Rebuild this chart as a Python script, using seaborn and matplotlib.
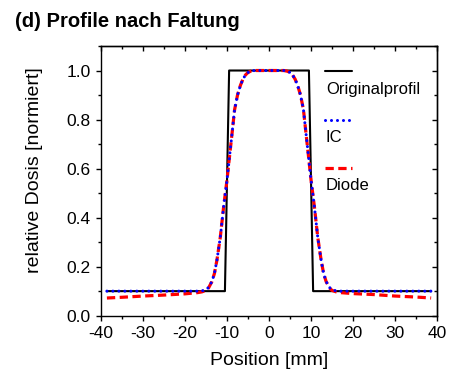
import numpy as np
import pandas as pd
import matplotlib
matplotlib.use("Agg")
import matplotlib.pyplot as plt
from matplotlib.ticker import MultipleLocator
import seaborn as sns

# ---- data ----
x_orig = [-38.6, -10.5, -9.5, 9.5, 10.5, 38.6]
y_orig = [0.1, 0.1, 1.0, 1.0, 0.1, 0.1]

x_ic = [-38.6, -35, -30, -25, -20, -17, -16, -15, -14.4, -13.6, -13.0, -12.4,
        -11.6, -10.8, -10.0, -9.4, -8.8, -8.2, -7.5, -6.8, -6.2, -5.6, -5.0,
        -4.4, -3.5, -2.0, 0.0, 2.0, 3.5, 4.4, 5.0, 5.6, 6.2, 6.8, 7.5, 8.2,
        8.8, 9.4, 10.0, 10.8, 11.6, 12.4, 13.0, 13.6, 14.4, 15, 16, 17, 20,
        25, 30, 35, 38.6]
y_ic = [0.1, 0.1, 0.1, 0.1, 0.1, 0.1, 0.101, 0.106, 0.115, 0.139, 0.172, 0.227,
        0.32, 0.445, 0.554, 0.65, 0.744, 0.84, 0.90, 0.94, 0.965, 0.982, 0.992,
        0.997, 1.0, 1.0, 1.0, 1.0, 1.0, 0.997, 0.992, 0.982, 0.965, 0.94, 0.90,
        0.84, 0.744, 0.65, 0.554, 0.445, 0.32, 0.227, 0.172, 0.139, 0.115,
        0.106, 0.101, 0.1, 0.1, 0.1, 0.1, 0.1, 0.1]

x_diode = x_ic
y_diode = [0.072, 0.075, 0.080, 0.084, 0.089, 0.094, 0.097, 0.103, 0.113, 0.139,
           0.172, 0.227, 0.32, 0.445, 0.554, 0.65, 0.744, 0.84, 0.90, 0.94,
           0.965, 0.982, 0.992, 0.997, 1.0, 1.0, 1.0, 1.0, 1.0, 0.997, 0.992,
           0.982, 0.965, 0.94, 0.90, 0.84, 0.744, 0.65, 0.554, 0.445, 0.32,
           0.227, 0.172, 0.139, 0.113, 0.103, 0.097, 0.094, 0.090, 0.086,
           0.080, 0.076, 0.072]

labels = ["Originalprofil", "IC", "Diode"]
title = "(d) Profile nach Faltung"
xlabel = "Position [mm]"
ylabel = "relative Dosis [normiert]"

sns.set_style("ticks")
plt.rcParams["font.family"] = ["Liberation Sans", "DejaVu Sans"]
plt.rcParams["axes.unicode_minus"] = False
plt.rcParams["text.color"] = "black"
plt.rcParams["axes.labelcolor"] = "black"
plt.rcParams["xtick.color"] = "black"
plt.rcParams["ytick.color"] = "black"

fig = plt.figure(figsize=(4.51, 3.74), dpi=100)
ax = fig.add_axes([0.224, 0.156, 0.745, 0.721])

df_o = pd.DataFrame({"x": x_orig, "y": y_orig})
df_i = pd.DataFrame({"x": x_ic, "y": y_ic})
df_d = pd.DataFrame({"x": x_diode, "y": y_diode})

sns.lineplot(data=df_o, x="x", y="y", ax=ax, sort=False, estimator=None,
             color="black", linewidth=1.5, zorder=2)
sns.lineplot(data=df_d, x="x", y="y", ax=ax, sort=False, estimator=None,
             color="#ff0000", linewidth=2.3, zorder=3, dashes=False)
ax.lines[-1].set_dashes((2.6, 1.4))
sns.lineplot(data=df_i, x="x", y="y", ax=ax, sort=False, estimator=None,
             color="#0000ff", linewidth=2.2, zorder=4)
ax.lines[-1].set_dashes((0.01, 1.95))
ax.lines[-1].set_dash_capstyle("round")

ax.set_xlim(-40, 40)
ax.set_ylim(0, 1.1)
ax.xaxis.set_major_locator(MultipleLocator(10))
ax.xaxis.set_minor_locator(MultipleLocator(5))
ax.yaxis.set_major_locator(MultipleLocator(0.2))
ax.yaxis.set_minor_locator(MultipleLocator(0.1))
ax.yaxis.set_major_formatter(matplotlib.ticker.FormatStrFormatter("%.1f"))

for sp in ax.spines.values():
    sp.set_visible(True)
    sp.set_linewidth(1.0)
    sp.set_color("black")

ax.tick_params(which="major", direction="out", length=3.5, width=1.0,
               labelsize=12.5, pad=4, colors="black")
ax.tick_params(which="minor", direction="out", length=2.2, width=1.0)
ax.tick_params(top=False, right=False)

sec_x = ax.secondary_xaxis("top")
sec_x.xaxis.set_major_locator(MultipleLocator(10))
sec_x.xaxis.set_minor_locator(MultipleLocator(5))
sec_x.tick_params(which="major", direction="in", length=3.5, width=1.0, labeltop=False)
sec_x.tick_params(which="minor", direction="in", length=2.2, width=1.0)
sec_x.spines["top"].set_linewidth(1.0)

sec_y = ax.secondary_yaxis("right")
sec_y.yaxis.set_major_locator(MultipleLocator(0.2))
sec_y.yaxis.set_minor_locator(MultipleLocator(0.1))
sec_y.tick_params(which="major", direction="in", length=3.5, width=1.0, labelright=False)
sec_y.tick_params(which="minor", direction="in", length=2.2, width=1.0)
sec_y.spines["right"].set_linewidth(1.0)

ax.set_xlabel(xlabel, fontsize=14)
ax.set_ylabel(ylabel, fontsize=14)
ax.xaxis.set_label_coords(0.5, -0.168)
ax.xaxis.label.set_va("center")
ax.yaxis.set_label_coords(-0.199, 0.54)
ax.yaxis.label.set_va("center")

# legend: handle above text (Origin style)
leg_styles = [
    dict(color="black", linewidth=1.5),
    dict(color="#0000ff", linewidth=2.2, dashes=(0.01, 1.95), dash_capstyle="round"),
    dict(color="#ff0000", linewidth=2.3, dashes=(2.6, 1.4)),
]
line_y = [0.907, 0.726, 0.548]
text_y = [0.839, 0.661, 0.482]
for lab, st, ly, ty in zip(labels, leg_styles, line_y, text_y):
    ax.plot([0.667, 0.748], [ly, ly], transform=ax.transAxes, **st)
    ax.text(0.669, ty, lab, transform=ax.transAxes, fontsize=12,
            va="center", ha="left")

fig.text(15 / 451, 1 - 27 / 374, title, fontsize=14.5, fontweight="bold",
         va="baseline", ha="left")

fig.savefig("out.png", dpi=100)
